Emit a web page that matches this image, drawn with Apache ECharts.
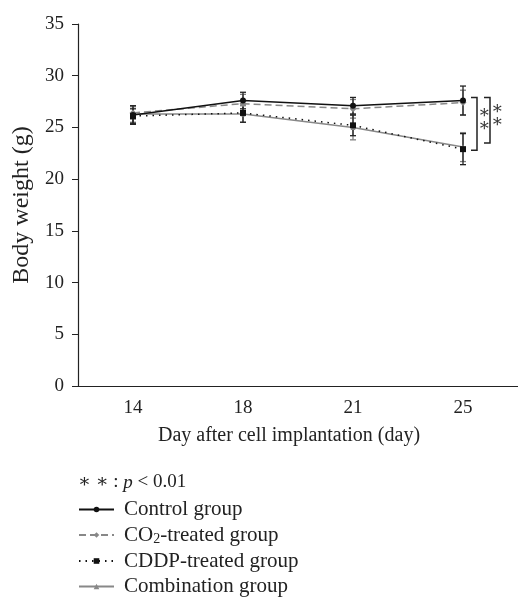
<!DOCTYPE html>
<html><head><meta charset="utf-8">
<script src="https://cdn.jsdelivr.net/npm/echarts@6/dist/echarts.min.js"></script>
<style>html,body{margin:0;padding:0;background:#fff}#c{width:518px;height:601px}</style>
</head><body><div id="c"></div>
<script>
var categories = ['14', '18', '21', '25'];
var yTicks = [0, 5, 10, 15, 20, 25, 30, 35];
var controlVals = [26.2, 27.6, 27.1, 27.6];
var controlErr  = [0.9, 0.8, 0.8, 1.4];
var co2Vals     = [26.4, 27.3, 26.8, 27.4];
var co2Err      = [0.6, 0.9, 0.9, 1.2];
var cddpVals    = [26.1, 26.4, 25.2, 22.9];
var cddpErr     = [0.7, 0.9, 1.0, 1.5];
var comboVals   = [26.3, 26.3, 25.0, 23.1];
var comboErr    = [0.8, 0.8, 1.2, 1.4];
var seriesNames = ['Control group', 'CO2-treated group', 'CDDP-treated group', 'Combination group'];
// significance brackets at day 25: [categoryIndex, top, bottom]
var brackets = [[3, 27.9, 22.8], [3, 27.9, 23.5]];

var FONT = '"Liberation Serif", "DejaVu Serif", serif';
var chart = echarts.init(document.getElementById('c'));

function errData(vals, errs) {
  return vals.map(function (v, i) { return [i, v - errs[i], v + errs[i]]; });
}
function errSeries(vals, errs, color) {
  return {
    type: 'custom', silent: true, z: 1,
    data: errData(vals, errs),
    renderItem: function (params, api) {
      var lo = api.coord([api.value(0), api.value(1)]);
      var hi = api.coord([api.value(0), api.value(2)]);
      var w = 3;
      var st = { stroke: color, lineWidth: 1.3 };
      return { type: 'group', children: [
        { type: 'line', shape: { x1: lo[0], y1: lo[1], x2: hi[0], y2: hi[1] }, style: st },
        { type: 'line', shape: { x1: lo[0] - w, y1: lo[1], x2: lo[0] + w, y2: lo[1] }, style: st },
        { type: 'line', shape: { x1: hi[0] - w, y1: hi[1], x2: hi[0] + w, y2: hi[1] }, style: st }
      ]};
    }
  };
}

var option = {
  backgroundColor: '#fff',
  animation: false,
  grid: { left: 78, top: 24, width: 443, height: 362 },
  xAxis: {
    type: 'category', data: categories, boundaryGap: true,
    name: 'Day after cell implantation (day)', nameLocation: 'middle', nameGap: 40,
    nameTextStyle: { fontFamily: FONT, fontSize: 20, color: '#222', padding: [0, 18, 0, 0] },
    axisLine: { lineStyle: { color: '#222', width: 1.2 } },
    axisTick: { alignWithLabel: true, length: 5, lineStyle: { color: '#222' } },
    axisLabel: { fontFamily: FONT, fontSize: 19, color: '#222', margin: 13 }
  },
  yAxis: {
    type: 'value', min: 0, max: 35, interval: 5,
    name: 'Body weight (g)', nameLocation: 'middle', nameGap: 42,
    nameTextStyle: { fontFamily: FONT, fontSize: 24, color: '#222' },
    axisLine: { show: true, lineStyle: { color: '#222', width: 1.2 } },
    axisTick: { show: true, length: 6, lineStyle: { color: '#222' } },
    splitLine: { show: false },
    axisLabel: { fontFamily: FONT, fontSize: 19, color: '#222', margin: 14,
      formatter: function (v) { return yTicks.indexOf(v) >= 0 ? String(v) : ''; } }
  },
  legend: {
    orient: 'vertical', left: 78, top: 499, padding: 0,
    itemWidth: 35, itemHeight: 7, itemGap: 4.5,
    textStyle: { fontFamily: FONT, fontSize: 21, color: '#222', padding: [0, 0, 0, 5],
      rich: {
        n: { fontFamily: FONT, fontSize: 21, color: '#222' },
        s: { fontFamily: FONT, fontSize: 14, color: '#222', verticalAlign: 'bottom', padding: [8, 0, 0, 0] }
      } },
    formatter: function (name) {
      if (name === 'CO2-treated group') return '{n|CO}{s|2}{n|-treated group}';
      return name;
    },
    data: seriesNames
  },
  graphic: [{
    type: 'text', left: 78, top: 473,
    style: {
      text: '{a|∗ ∗ : }{p|p}{a| < 0.01}',
      rich: {
        a: { fontFamily: FONT, fontSize: 19, fill: '#222' },
        p: { fontFamily: FONT, fontSize: 19, fill: '#222', fontStyle: 'italic' }
      }
    }
  }],
  series: [
    errSeries(comboVals, comboErr, '#808080'),
    errSeries(co2Vals, co2Err, '#808080'),
    errSeries(controlVals, controlErr, '#222'),
    errSeries(cddpVals, cddpErr, '#222'),
    { name: seriesNames[0], type: 'line', data: controlVals, z: 5,
      symbol: 'circle', symbolSize: 6, itemStyle: { color: '#111' },
      lineStyle: { color: '#111', width: 1.5 } },
    { name: seriesNames[1], type: 'line', data: co2Vals, z: 4,
      symbol: 'diamond', symbolSize: 7, itemStyle: { color: '#888' },
      lineStyle: { color: '#888', width: 1.5, type: [7, 4] } },
    { name: seriesNames[2], type: 'line', data: cddpVals, z: 4,
      symbol: 'rect', symbolSize: 6, itemStyle: { color: '#111' },
      lineStyle: { color: '#111', width: 1.5, type: [1.5, 5] } },
    { name: seriesNames[3], type: 'line', data: comboVals, z: 3,
      symbol: 'triangle', symbolSize: 5, itemStyle: { color: '#888' },
      lineStyle: { color: '#888', width: 1.5 } },
    { type: 'custom', silent: true, z: 6, data: brackets,
      renderItem: function (params, api) {
        var idx = params.dataIndex;
        var base = api.coord([api.value(0), api.value(1)]);
        var bot = api.coord([api.value(0), api.value(2)]);
        var x = base[0] + 14 + idx * 13;
        var st = { stroke: '#222', lineWidth: 1.5, fill: null };
        var mid = (base[1] + bot[1]) / 2;
        return { type: 'group', children: [
          { type: 'polyline', shape: { points: [[x - 6, base[1]], [x, base[1]], [x, bot[1]], [x - 6, bot[1]]] }, style: st },
          { type: 'text', x: x + 7, y: mid - 4, style: { text: '∗\n∗', fontFamily: FONT, fontSize: 18,
            fill: '#333', align: 'center', verticalAlign: 'middle', lineHeight: 13 } }
        ]};
      }
    }
  ]
};
chart.setOption(option);
</script>
</body></html>
